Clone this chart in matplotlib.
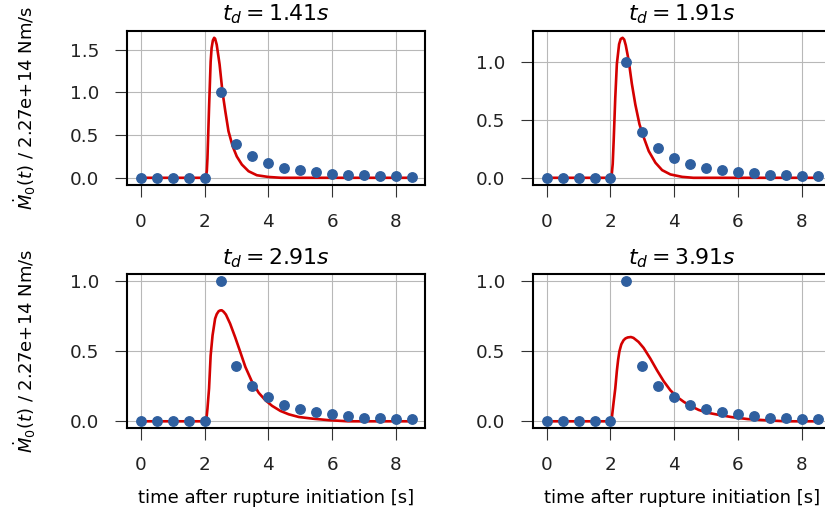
import matplotlib
matplotlib.use("Agg")
import matplotlib.pyplot as plt

# Observed moment-rate samples (normalised), shared by every panel
t_obs = [0.0, 0.5, 1.0, 1.5, 2.0, 2.5, 3.0, 3.5, 4.0, 4.5, 5.0, 5.5,
         6.0, 6.5, 7.0, 7.5, 8.0, 8.5]
m_obs = [0.0, 0.0, 0.0, 0.0, 0.0, 1.0, 0.398, 0.253, 0.174, 0.12, 0.088,
         0.065, 0.05, 0.038, 0.027, 0.023, 0.018, 0.015]

# Model source time functions for each duration t_d
t_fit_141 = [0.0, 2.04, 2.07, 2.09, 2.14, 2.19, 2.22, 2.26, 2.30, 2.33,
             2.38, 2.47, 2.56, 2.65, 2.75, 2.88, 3.01, 3.17, 3.38, 3.64,
             4.0, 4.4, 8.5]
m_fit_141 = [0.0, 0.0, 0.08, 0.23, 0.82, 1.36, 1.52, 1.61, 1.64, 1.63,
             1.56, 1.33, 1.01, 0.78, 0.545, 0.37, 0.25, 0.155, 0.077, 0.03,
             0.01, 0.0, 0.0]

t_fit_191 = [0.0, 2.03, 2.07, 2.10, 2.15, 2.20, 2.27, 2.32, 2.38, 2.43,
             2.48, 2.57, 2.67, 2.78, 2.91, 3.04, 3.20, 3.41, 3.62, 3.88,
             4.25, 4.6, 8.5]
m_fit_191 = [0.0, 0.0, 0.12, 0.32, 0.69, 0.98, 1.15, 1.195, 1.205, 1.19,
             1.14, 1.01, 0.81, 0.63, 0.46, 0.35, 0.23, 0.13, 0.066, 0.029,
             0.008, 0.0, 0.0]

t_fit_291 = [0.0, 2.05, 2.09, 2.14, 2.19, 2.25, 2.33, 2.38, 2.44, 2.49,
             2.54, 2.60, 2.67, 2.80, 2.96, 3.12, 3.28, 3.49, 3.70, 3.91,
             4.12, 4.38, 4.64, 4.95, 5.38, 5.9, 6.5, 8.5]
m_fit_291 = [0.0, 0.0, 0.09, 0.234, 0.47, 0.614, 0.733, 0.765, 0.786, 0.792,
             0.793, 0.782, 0.762, 0.698, 0.60, 0.495, 0.388, 0.281, 0.203, 0.15,
             0.11, 0.074, 0.05, 0.031, 0.019, 0.008, 0.0, 0.0]

t_fit_391 = [0.0, 2.03, 2.06, 2.10, 2.15, 2.20, 2.24, 2.28, 2.34, 2.41,
             2.47, 2.54, 2.64, 2.72, 2.88, 3.04, 3.25, 3.46, 3.67, 3.88,
             4.09, 4.30, 4.51, 4.77, 5.03, 5.35, 5.8, 6.3, 6.9, 7.5, 8.5]
m_fit_391 = [0.0, 0.0, 0.06, 0.14, 0.234, 0.36, 0.44, 0.50, 0.55, 0.579,
             0.592, 0.599, 0.602, 0.596, 0.567, 0.524, 0.448, 0.364, 0.286, 0.221,
             0.174, 0.139, 0.11, 0.081, 0.062, 0.048, 0.03, 0.016, 0.007, 0.0, 0.0]

durations = ["1.41", "1.91", "2.91", "3.91"]
fits = [(t_fit_141, m_fit_141), (t_fit_191, m_fit_191),
        (t_fit_291, m_fit_291), (t_fit_391, m_fit_391)]

y_label = r"$\dot{M}_0(t)$ / 2.27e+14 Nm/s"
x_label = "time after rupture initiation [s]"

fig = plt.figure(figsize=(8.25, 5.16), dpi=100)
W, H = 825.0, 516.0
lefts = [127.3, 533.2]
tops = [30.8, 274.3]
aw, ah = 298.0, 154.0

for i, (td, (tf, mf)) in enumerate(zip(durations, fits)):
    r, c = divmod(i, 2)
    ax = fig.add_axes([lefts[c] / W, 1 - (tops[r] + ah) / H, aw / W, ah / H])
    ax.plot(tf, mf, color="#d40000", lw=1.9, zorder=2,
            solid_joinstyle="round")
    ax.plot(t_obs, m_obs, "o", color="#2f5f9f", ms=6.8, mec="#2f5f9f",
            zorder=3)
    ax.grid(True, color="#b8b8b8", lw=0.8)
    ax.set_axisbelow(True)
    for s in ax.spines.values():
        s.set_color("black")
        s.set_linewidth(1.5)
    ax.tick_params(direction="out", length=8.5, width=0.8, color="#333333",
                   pad=11.5, labelsize=13.2, labelcolor="#222222")
    ax.set_xticks([0, 2, 4, 6, 8])
    ax.set_title(r"$t_d = %ss$" % td, fontsize=15.8, pad=7.3)
    if c == 0:
        ax.set_ylabel(y_label, fontsize=13)
        ax.yaxis.set_label_coords(-0.30, 0.5)
    if r == 1:
        ax.set_xlabel(x_label, fontsize=13)
        ax.xaxis.set_label_coords(0.5, -0.395)

fig.savefig("out.png", dpi=100)
